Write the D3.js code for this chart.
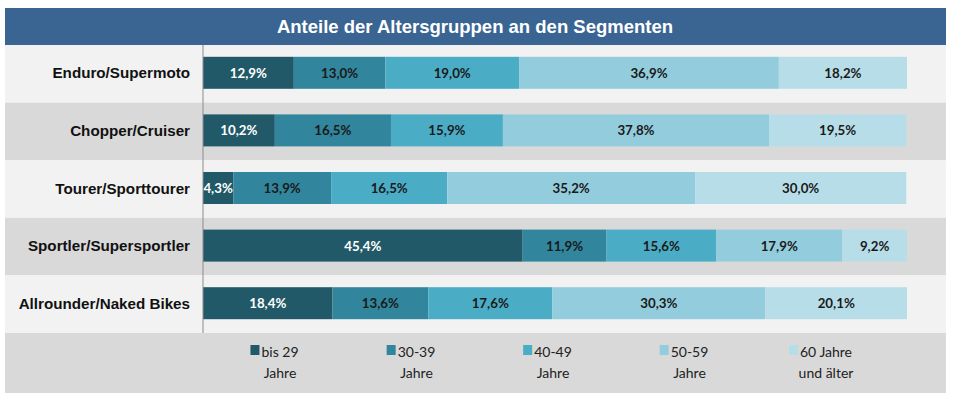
<!DOCTYPE html>
<html><head><meta charset="utf-8">
<script src="https://cdn.jsdelivr.net/npm/d3@7"></script>
<style>body{margin:0;background:#fff;}svg{display:block;}</style>
</head><body>
<svg id="c" width="954" height="396"></svg>
<script>
const title = "Anteile der Altersgruppen an den Segmenten";
const categories = ["Enduro/Supermoto","Chopper/Cruiser","Tourer/Sporttourer","Sportler/Supersportler","Allrounder/Naked Bikes"];
const seriesNames = [["bis 29","Jahre"],["30-39","Jahre"],["40-49","Jahre"],["50-59","Jahre"],["60 Jahre","und älter"]];
const bis29   = [12.9, 10.2, 4.3, 45.4, 18.4];
const j30_39  = [13.0, 16.5, 13.9, 11.9, 13.6];
const j40_49  = [19.0, 15.9, 16.5, 15.6, 17.6];
const j50_59  = [36.9, 37.8, 35.2, 17.9, 30.3];
const j60plus = [18.2, 19.5, 30.0, 9.2, 20.1];
const series = [bis29, j30_39, j40_49, j50_59, j60plus];
const colors = ["#215968","#31859c","#4bacc6","#93cddd","#b7dee8"];
const labelColors = ["#ffffff","#1a1a1a","#1a1a1a","#1a1a1a","#1a1a1a"];

const svg = d3.select("#c");
const pLeft = 203, pRight = 907, pTop = 45, pBottom = 333;

// title bar
svg.append("rect").attr("x",5).attr("y",8).attr("width",941).attr("height",37).attr("fill","#3a6592");
svg.append("text").attr("x",475).attr("y",33).attr("text-anchor","middle")
  .attr("fill","#fff").attr("font-family","Liberation Sans, Arial, sans-serif")
  .attr("font-weight","bold").attr("font-size",18.5).text(title);

const y = d3.scaleBand().domain(categories).range([pTop,pBottom]).paddingInner(0).paddingOuter(0);
const x = d3.scaleLinear().domain([0,100]).range([pLeft,pRight]);

// row bands
svg.selectAll("rect.band").data(categories).enter().append("rect").attr("class","band")
  .attr("x",5).attr("width",941).attr("y",d=>y(d)).attr("height",y.bandwidth())
  .attr("fill",(d,i)=> i%2 ? "#d9d9d9" : "#f2f2f2");
// legend band
svg.append("rect").attr("x",5).attr("width",941).attr("y",pBottom).attr("height",60).attr("fill","#d9d9d9");

// stacked data
const rows = categories.map((c,i)=>{
  let acc = 0;
  return series.map((s,k)=>{ const o={cat:c,k:k,v:s[i],x0:acc,x1:acc+s[i]}; acc+=s[i]; return o; });
});
const barH = 32;
const g = svg.append("g");
rows.forEach(r=>{
  g.selectAll(null).data(r).enter().append("rect")
    .attr("x",d=>x(d.x0)).attr("width",d=>x(d.x1)-x(d.x0))
    .attr("y",d=>y(d.cat)+y.bandwidth()/2-barH/2-1).attr("height",barH)
    .attr("fill",d=>colors[d.k]);
  g.selectAll(null).data(r).enter().append("text")
    .attr("x",d=>(x(d.x0)+x(d.x1))/2).attr("y",d=>y(d.cat)+y.bandwidth()/2+4)
    .attr("text-anchor","middle").attr("font-family","Lato, sans-serif").attr("font-weight","bold")
    .attr("font-size",13.3).attr("fill",d=>labelColors[d.k])
    .text(d=>d3.format(".1f")(d.v).replace(".",",")+"%");
});

// axis
const yAxis = d3.axisLeft(y).tickSize(0).tickPadding(13);
const ag = svg.append("g").attr("transform",`translate(${pLeft},0)`).call(yAxis);
ag.select(".domain").attr("stroke","#8c8c8c").attr("d",`M0,${pTop}V${pBottom}`);
ag.selectAll("text").attr("font-family","Liberation Sans, Arial, sans-serif").attr("font-weight","bold")
  .attr("font-size",15.2).attr("fill","#111").attr("dy","0.3em");

// legend
const lx = d3.scalePoint().domain(d3.range(5)).range([280,826]);
const lg = svg.append("g");
seriesNames.forEach((n,k)=>{
  const cx = lx(k);
  const t1 = lg.append("text").attr("x",cx).attr("y",357).attr("text-anchor","middle")
    .attr("font-family","Lato, sans-serif").attr("font-size",14).attr("fill","#222").text(n[0]);
  lg.append("text").attr("x",cx).attr("y",378).attr("text-anchor","middle")
    .attr("font-family","Lato, sans-serif").attr("font-size",14).attr("fill","#222").text(n[1]);
  const w = t1.node().getComputedTextLength();
  lg.append("rect").attr("x",cx - w/2 - 11).attr("y",345).attr("width",9).attr("height",10).attr("fill",colors[k]);
});
</script>
</body></html>
